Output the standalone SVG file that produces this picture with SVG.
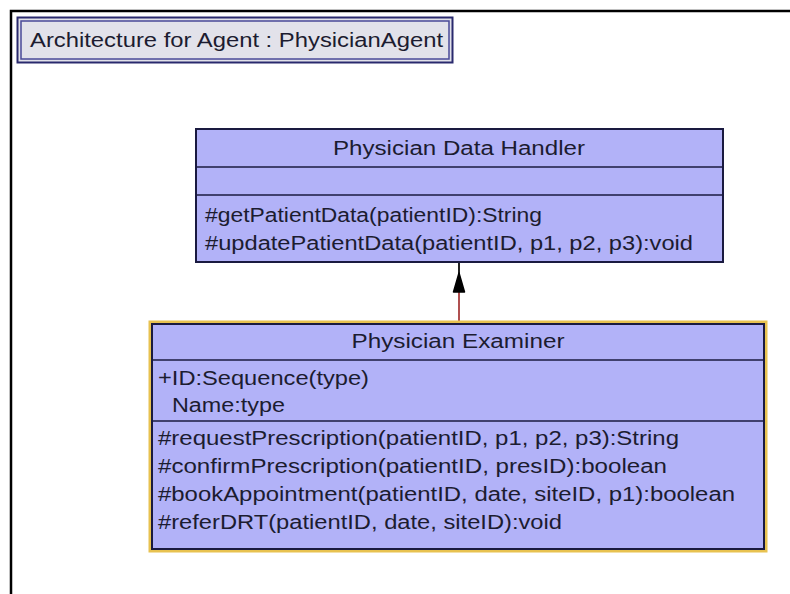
<svg xmlns="http://www.w3.org/2000/svg" width="790" height="594" viewBox="0 0 790 594">
<defs>
<style>
text{font-family:"Liberation Sans",Arial,sans-serif;font-size:20px;fill:#1c1c30}
.cls{fill:#b2b2f8;stroke:#1a1a40;stroke-width:2}
.div{stroke:#1a1a40;stroke-width:1.5}
</style>
</defs>
<rect x="0" y="0" width="790" height="594" fill="#ffffff"/>
<path d="M11 594 V11 H790" fill="none" stroke="#000" stroke-width="2.5"/>
<g id="title">
<rect x="17.5" y="17.5" width="435" height="45" fill="#e2e2ea" stroke="#2a2a6e" stroke-width="2"/>
<rect x="21" y="21" width="428" height="38" fill="none" stroke="#4a4a98" stroke-width="1.5"/>
<text x="30" y="47" textLength="413" lengthAdjust="spacingAndGlyphs">Architecture for Agent : PhysicianAgent</text>
</g>
<g id="connectors">
<line x1="459" y1="263" x2="459" y2="275" stroke="#222" stroke-width="2"/>
<line x1="459" y1="290" x2="459" y2="322" stroke="#b05050" stroke-width="2"/>
<path d="M459 273 L464.5 292 L453.5 292 Z" fill="#000" stroke="#000" stroke-width="1.5" stroke-linejoin="round"/>
</g>
<g id="physician-data-handler">
<rect class="cls" x="196" y="129" width="527" height="133"/>
<line class="div" x1="196" y1="167" x2="723" y2="167"/>
<line class="div" x1="196" y1="195" x2="723" y2="195"/>
<text x="459" y="155" text-anchor="middle" textLength="252" lengthAdjust="spacingAndGlyphs">Physician Data Handler</text>
<text x="205" y="222" textLength="337" lengthAdjust="spacingAndGlyphs">#getPatientData(patientID):String</text>
<text x="205" y="250" textLength="488" lengthAdjust="spacingAndGlyphs">#updatePatientData(patientID, p1, p2, p3):void</text>
</g>
<g id="physician-examiner">
<rect x="150" y="322" width="616" height="229" fill="none" stroke="#e8c250" stroke-width="3"/>
<rect class="cls" x="152" y="324" width="612" height="225"/>
<line class="div" x1="152" y1="360" x2="764" y2="360"/>
<line class="div" x1="152" y1="421" x2="764" y2="421"/>
<text x="458" y="348" text-anchor="middle" textLength="213" lengthAdjust="spacingAndGlyphs">Physician Examiner</text>
<text x="158" y="385" textLength="211" lengthAdjust="spacingAndGlyphs">+ID:Sequence(type)</text>
<text x="172" y="412" textLength="113" lengthAdjust="spacingAndGlyphs">Name:type</text>
<text x="158" y="445" textLength="521" lengthAdjust="spacingAndGlyphs">#requestPrescription(patientID, p1, p2, p3):String</text>
<text x="158" y="473" textLength="509" lengthAdjust="spacingAndGlyphs">#confirmPrescription(patientID, presID):boolean</text>
<text x="158" y="501" textLength="577" lengthAdjust="spacingAndGlyphs">#bookAppointment(patientID, date, siteID, p1):boolean</text>
<text x="158" y="529" textLength="404" lengthAdjust="spacingAndGlyphs">#referDRT(patientID, date, siteID):void</text>
</g>
</svg>
